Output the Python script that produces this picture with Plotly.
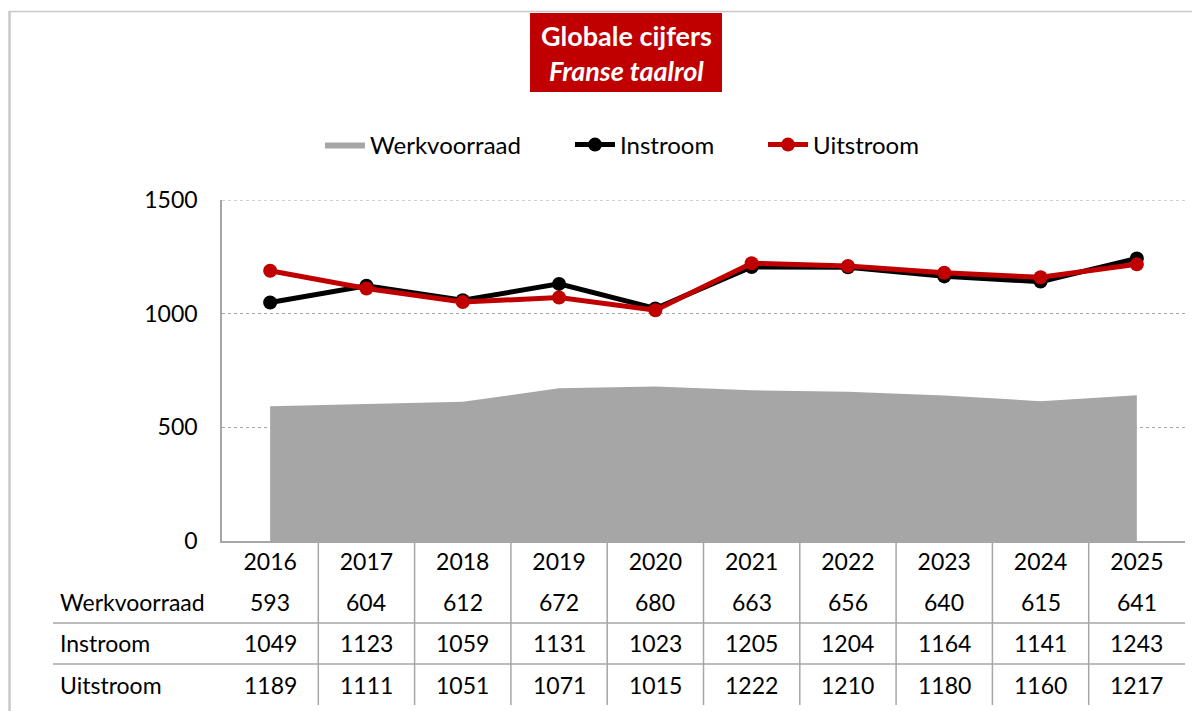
import plotly.graph_objects as go

years = ["2016", "2017", "2018", "2019", "2020", "2021", "2022", "2023", "2024", "2025"]
werkvoorraad = [593, 604, 612, 672, 680, 663, 656, 640, 615, 641]
instroom = [1049, 1123, 1059, 1131, 1023, 1205, 1204, 1164, 1141, 1243]
uitstroom = [1189, 1111, 1051, 1071, 1015, 1222, 1210, 1180, 1160, 1217]
row_labels = ["Werkvoorraad", "Instroom", "Uitstroom"]
y_ticks = [0, 500, 1000, 1500]

OFF = 8  # page body margin
W, H = 1200 - OFF, 711 - OFF
# plot area in screen pixels: x 222..1185, y 200..541
L, R, T, B = 222 - OFF, 1200 - 1185, 200 - OFF, 711 - 541
PW, PH = W - L - R, H - T - B

def px2x(px):
    return (px - OFF - L) / PW

def px2y(py):
    return (H - B - (py - OFF)) / PH

FONT = "Lato, 'Open Sans', sans-serif"
FS = 23
RED = "#C00000"
GREY = "#A6A6A6"
LINEG = "#A6A6A6"

xs = list(range(len(years)))

fig = go.Figure()
fig.add_trace(go.Scatter(x=xs, y=werkvoorraad, name="Werkvoorraad", mode="lines",
                         fill="tozeroy", fillcolor=GREY, line=dict(width=0, color=GREY),
                         legend="legend"))
fig.add_trace(go.Scatter(x=xs, y=instroom, name="Instroom", mode="lines+markers",
                         line=dict(color="black", width=5), marker=dict(size=14, color="black"),
                         legend="legend2"))
fig.add_trace(go.Scatter(x=xs, y=uitstroom, name="Uitstroom", mode="lines+markers",
                         line=dict(color=RED, width=5), marker=dict(size=14, color=RED),
                         legend="legend3"))

shapes = []
annotations = []

# outer border
shapes.append(dict(type="line", xref="paper", yref="paper", x0=px2x(9), x1=px2x(1200),
                   y0=px2y(11.5), y1=px2y(11.5), line=dict(color="#C8C8C8", width=1.5)))
shapes.append(dict(type="line", xref="paper", yref="paper", x0=px2x(9.5), x1=px2x(9.5),
                   y0=px2y(11), y1=px2y(711), line=dict(color="#C8C8C8", width=2.5)))

# top gridline (at the axis maximum)
shapes.append(dict(type="line", xref="paper", yref="y", x0=0, x1=1, y0=y_ticks[-1], y1=y_ticks[-1],
                   line=dict(color="#A6A6A6", width=1, dash="dot"), layer="below"))

# title box
shapes.append(dict(type="rect", xref="paper", yref="paper", x0=px2x(530), x1=px2x(722),
                   y0=px2y(92), y1=px2y(13), fillcolor=RED, line=dict(width=0)))
annotations.append(dict(xref="paper", yref="paper", x=px2x(626), y=px2y(53),
                        text="<b>Globale cijfers</b><br><b><i>Franse taalrol</i></b>",
                        showarrow=False, xanchor="center", yanchor="middle",
                        font=dict(family=FONT, size=27, color="white")))

# table lines
for k in range(len(years) - 1):
    shapes.append(dict(type="line", xref="x", yref="paper", x0=k + 0.5, x1=k + 0.5,
                       y0=px2y(541), y1=px2y(705), line=dict(color=LINEG, width=1.5)))
for py in [623, 664]:
    shapes.append(dict(type="line", xref="paper", yref="paper", x0=px2x(53), x1=1.0,
                       y0=px2y(py), y1=px2y(py), line=dict(color=LINEG, width=1.5)))

# table text
row_y = [602, 643, 685]
rows = [werkvoorraad, instroom, uitstroom]
for lbl, py, vals in zip(row_labels, row_y, rows):
    annotations.append(dict(xref="paper", yref="paper", x=px2x(58), y=px2y(py), text=lbl,
                            showarrow=False, xanchor="left", yanchor="middle",
                            font=dict(family=FONT, size=FS, color="black")))
    for i, v in enumerate(vals):
        annotations.append(dict(xref="x", yref="paper", x=i, y=px2y(py), text=str(v),
                                showarrow=False, xanchor="center", yanchor="middle",
                                font=dict(family=FONT, size=FS, color="black")))

legfont = dict(family=FONT, size=FS + 1, color="black")
def leg(xpx):
    return dict(orientation="h", x=px2x(xpx), y=px2y(145), xanchor="left", yanchor="middle",
                font=legfont, bgcolor="rgba(0,0,0,0)", itemwidth=40)

fig.update_layout(
    width=W, height=H,
    margin=dict(l=L, r=R, t=T, b=B),
    paper_bgcolor="white", plot_bgcolor="white",
    font=dict(family=FONT, size=FS, color="black"),
    showlegend=True,
    legend=leg(320),
    legend2=leg(570),
    legend3=leg(763),
    xaxis=dict(range=[-0.5, len(years) - 0.5], tickmode="array", tickvals=xs, ticktext=years,
               showgrid=False, showline=True, linecolor=LINEG, linewidth=1.5, ticks="",
               zeroline=False, ticklabelstandoff=0, fixedrange=True),
    yaxis=dict(range=[0, 1500], tickvals=y_ticks, showgrid=True, gridcolor="#A6A6A6",
               griddash="dot", gridwidth=1, showline=True, linecolor=LINEG, linewidth=1.5,
               ticks="", zeroline=False, ticklabelstandoff=18, fixedrange=True),
    shapes=shapes,
    annotations=annotations,
)

fig.write_html("out.html")
